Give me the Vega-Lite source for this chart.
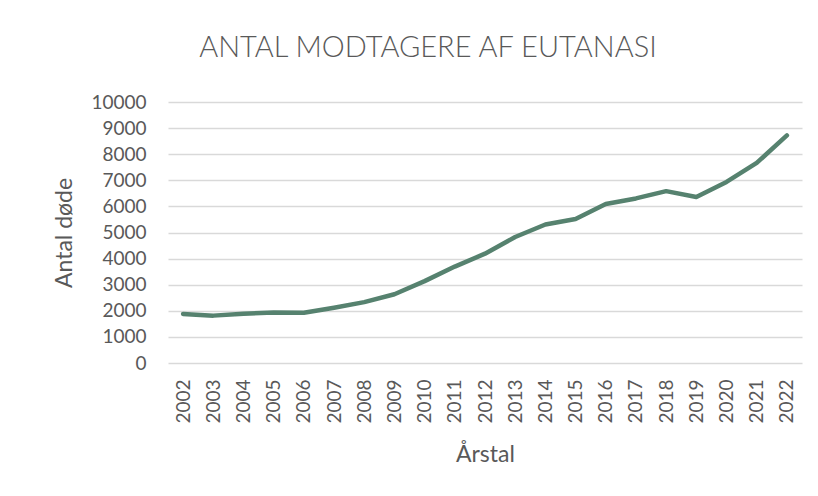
{
  "$schema": "https://vega.github.io/schema/vega-lite/v6.json",
  "width": 634,
  "height": 261,
  "autosize": {"type": "none"},
  "padding": {"left": 168, "top": 102, "right": 16, "bottom": 133},
  "background": "white",
  "title": {
    "text": "ANTAL MODTAGERE AF EUTANASI",
    "font": "Lato",
    "fontSize": 29,
    "fontWeight": 300,
    "color": "#595959",
    "frame": "bounds",
    "anchor": "middle",
    "offset": 30
  },
  "data": {
    "values": [
      {"year": "2002", "value": 1882},
      {"year": "2003", "value": 1815},
      {"year": "2004", "value": 1886},
      {"year": "2005", "value": 1933},
      {"year": "2006", "value": 1923},
      {"year": "2007", "value": 2120},
      {"year": "2008", "value": 2331},
      {"year": "2009", "value": 2636},
      {"year": "2010", "value": 3136},
      {"year": "2011", "value": 3695},
      {"year": "2012", "value": 4188},
      {"year": "2013", "value": 4829},
      {"year": "2014", "value": 5306},
      {"year": "2015", "value": 5516},
      {"year": "2016", "value": 6091},
      {"year": "2017", "value": 6306},
      {"year": "2018", "value": 6585},
      {"year": "2019", "value": 6361},
      {"year": "2020", "value": 6938},
      {"year": "2021", "value": 7666},
      {"year": "2022", "value": 8720}
    ]
  },
  "mark": {"type": "line", "color": "#56826f", "strokeWidth": 4.5, "strokeCap": "round", "strokeJoin": "round"},
  "encoding": {
    "x": {
      "field": "year",
      "type": "ordinal",
      "scale": {"type": "point", "padding": 0.5},
      "axis": {
        "title": "Årstal",
        "labelAngle": -90,
        "labelFont": "Lato",
        "labelFontSize": 19,
        "labelColor": "#595959",
        "labelPadding": 16,
        "titleFont": "Lato",
        "titleFontSize": 23,
        "titleFontWeight": "normal",
        "titleColor": "#595959",
        "titlePadding": 20,
        "ticks": false,
        "domain": false,
        "grid": false
      }
    },
    "y": {
      "field": "value",
      "type": "quantitative",
      "scale": {"domain": [0, 10000], "nice": false},
      "axis": {
        "title": "Antal døde",
        "values": [0, 1000, 2000, 3000, 4000, 5000, 6000, 7000, 8000, 9000, 10000],
        "format": "d",
        "labelFont": "Lato",
        "labelFontSize": 19,
        "labelColor": "#595959",
        "labelPadding": 22,
        "titleFont": "Lato",
        "titleFontSize": 23,
        "titleFontWeight": "normal",
        "titleColor": "#595959",
        "titlePadding": 14,
        "ticks": false,
        "domain": false,
        "grid": true,
        "gridColor": "#d9d9d9",
        "gridWidth": 1.5
      }
    }
  },
  "config": {"view": {"stroke": null}}
}
